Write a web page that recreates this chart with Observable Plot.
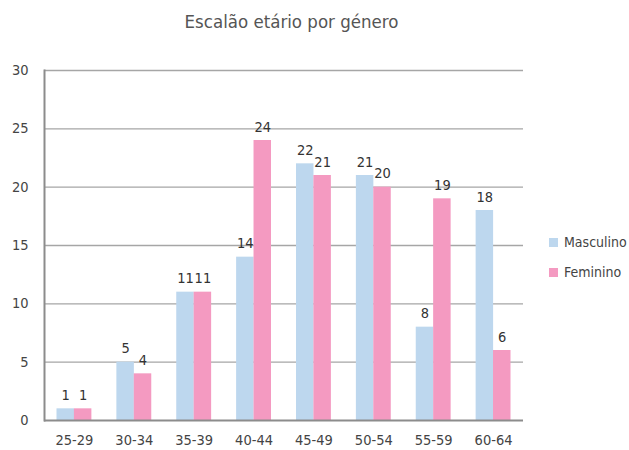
<!DOCTYPE html>
<html>
<head>
<meta charset="utf-8">
<script src="https://cdn.jsdelivr.net/npm/d3@7"></script>
<script src="https://cdn.jsdelivr.net/npm/@observablehq/plot@0.6"></script>
<style>
  body { margin: 0; background: #fff; font-family: "DejaVu Sans Condensed", Roboto, sans-serif; }
  #wrap { position: relative; width: 629px; height: 450px; }
  #title { height: 50px; line-height: 44px; text-align: center; font-size: 18.5px; color: #555; padding-right: 46px; box-sizing: border-box; white-space: nowrap; }
  #legend { position: absolute; left: 549px; top: 227px; font-size: 14px; color: #444; white-space: nowrap; }
  .sw { display: flex; align-items: center; height: 30px; }
  .sw span.box { width: 9px; height: 9px; margin-right: 6px; display: inline-block; }
</style>
</head>
<body>
<div id="wrap">
  <div id="title"></div>
  <div id="chart"></div>
  <div id="legend"></div>
</div>
<script>
const titleText = "Escalão etário por género";
const ageGroups = ["25-29", "30-34", "35-39", "40-44", "45-49", "50-54", "55-59", "60-64"];
const masculino = [1, 5, 11, 14, 22, 21, 8, 18];
const feminino = [1, 4, 11, 24, 21, 20, 19, 6];
const seriesNames = ["Masculino", "Feminino"];
const seriesColors = ["#BDD7EE", "#F49AC1"];
const yTicks = [0, 5, 10, 15, 20, 25, 30];

document.getElementById("title").textContent = titleText;

const male = ageGroups.map((a, i) => ({age: a, value: masculino[i], g: seriesNames[0]}));
const female = ageGroups.map((a, i) => ({age: a, value: feminino[i], g: seriesNames[1]}));

const off = 8.7;
const font = "'DejaVu Sans Condensed', Roboto, sans-serif";

const plot = Plot.plot({
  width: 629,
  height: 400,
  marginLeft: 44,
  marginRight: 106,
  marginTop: 20,
  marginBottom: 30,
  style: {fontFamily: font, fontSize: "14.5px", color: "#444", background: "#fff"},
  x: {domain: ageGroups, paddingInner: 0.708, paddingOuter: 0.354, round: false, label: null, tickSize: 0, tickPadding: 14},
  y: {domain: [0, 30], ticks: yTicks, label: null, tickSize: 0, tickPadding: 16},
  color: {domain: seriesNames, range: seriesColors},
  marks: [
    Plot.ruleY(yTicks.filter(d => d > 0), {stroke: "#a6a6a6", strokeWidth: 1.3}),
    Plot.barY(male, {x: "age", y: "value", fill: "g", dx: -off}),
    Plot.barY(female, {x: "age", y: "value", fill: "g", dx: off}),
    Plot.ruleY([0], {stroke: "#8c8c8c", strokeWidth: 2}),
    Plot.frame({anchor: "left", stroke: "#8c8c8c", strokeWidth: 2}),
    Plot.text(male, {x: "age", y: "value", text: d => String(d.value), dx: -off, dy: -9, lineAnchor: "bottom", fill: "#333", fontSize: 14.5}),
    Plot.text(female, {x: "age", y: "value", text: d => String(d.value), dx: off, dy: -9, lineAnchor: "bottom", fill: "#333", fontSize: 14.5})
  ]
});
document.getElementById("chart").appendChild(plot);

const leg = document.getElementById("legend");
seriesNames.forEach((n, i) => {
  const row = document.createElement("div");
  row.className = "sw";
  const b = document.createElement("span");
  b.className = "box";
  b.style.background = seriesColors[i];
  const t = document.createElement("span");
  t.textContent = n;
  row.appendChild(b);
  row.appendChild(t);
  leg.appendChild(row);
});
</script>
</body>
</html>
